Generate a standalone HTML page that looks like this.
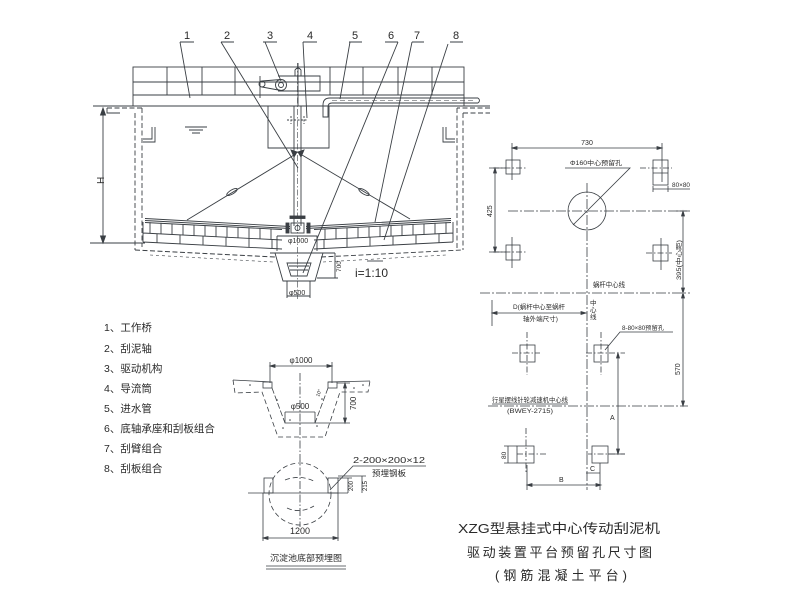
<!DOCTYPE html>
<html><head><meta charset="utf-8"><style>
html,body{margin:0;padding:0;background:#fff;}
svg{display:block;}
text{font-family:"Liberation Sans","Noto Sans CJK SC",sans-serif;fill:#2a2a2a;stroke:none;}
</style></head><body>
<svg width="787" height="590" viewBox="0 0 787 590" xmlns="http://www.w3.org/2000/svg">
<rect width="787" height="590" fill="#fff"/>
<g stroke="#3a3f44" stroke-width="0.9" fill="none">
<!-- ===== TOP DRAWING ===== -->
<!-- label underlines -->
<path d="M180,42H194M221,42H234M263,42H277M303,42H317M349,42H362M385,42H398M412,42H424M450,42H463"/>
<!-- leaders -->
<path d="M180,42L190,98M221,42L298,168M265,42L281,81M303,42L307,118M350,42L340,99M398,42L303,273M412,42L375,222M448,44L384,240"/>
<!-- bridge -->
<rect x="133" y="67" width="331" height="39"/>
<path d="M133,82H464M133,95H464"/>
<path d="M167,67V95M202,67V95M235,67V95M330,67V95M363,67V95M398,67V95M432,67V95"/>
<!-- drive -->
<path d="M278,76H320V91H278"/>
<path d="M298,63V106M295,70Q298,66 301,70V76H295Z"/>
<circle cx="281" cy="85" r="5.5"/><circle cx="281" cy="85" r="2.5"/>
<circle cx="262" cy="84" r="3"/>
<path d="M262,81L281,79.5M262,87L281,90.5M260,76V98"/>
<!-- tank top line -->
<path d="M93,106H490"/>
<!-- tank walls -->
<path d="M120,113H107V108" />
<path d="M107,108H142M135,113V250M142,108V247M457,108V250M463,113V250M463,113H490M490,108H457" stroke-dasharray="5 2.5"/>
<!-- weirs -->
<path d="M152,127V139H143M155,127V142H143M443,127V142H455M446,127V139H455"/>
<!-- water level -->
<path d="M185,127H207M189,130H203M192,133H200"/>
<!-- center cylinder -->
<path d="M268,106V148H329V106"/>
<!-- shaft -->
<path d="M294,106V226M301,106V226"/>
<path d="M297.5,63V300" stroke-dasharray="6 2 1.5 2" stroke-width="0.6"/>
<path d="M287,120H308M291,116V124M304,116V124" stroke-dasharray="2 1.5"/>
<!-- tie rods -->
<path d="M294,155L187,220M302,155L410,219"/>
<path d="M291,150L294,157L297,152ZM304,150L301,157L298,152Z" fill="#3a3f44"/>
<ellipse cx="232" cy="192" rx="6" ry="2" transform="rotate(-31 232 192)"/>
<ellipse cx="364" cy="192" rx="6" ry="2" transform="rotate(31 364 192)"/>
<!-- arms -->
<path d="M145,218.5L290,226.5M145,220.5L290,228.5M451,218.5L306,226.5M451,220.5L306,228.5"/>
<!-- blade bands left -->
<path d="M145,222.5L282,229.5M143,233L282,240M143,242L282,249M143,222V242"/>
<path d="M150,222.3V233.4M161,222.9V233.9M172,223.5V234.5M183,224.1V235M194,224.7V235.6M205,225.3V236.1M216,225.9V236.6M227,226.5V237.2M238,227.1V237.8M249,227.7V238.3M260,228.3V238.9M271,228.9V239.4"/>
<path d="M157,233.7V242.7M180,234.9V243.9M203,236V245M226,237.2V246.2M249,238.3V247.3M272,239.5V248.5"/>
<!-- blade bands right -->
<path d="M451,222.5L314,229.5M453,233L314,240M453,242L314,249M453,222V242"/>
<path d="M446,222.3V233.4M435,222.9V233.9M424,223.5V234.5M413,224.1V235M402,224.7V235.6M391,225.3V236.1M380,225.9V236.6M369,226.5V237.2M358,227.1V237.8M347,227.7V238.3M336,228.3V238.9M325,228.9V239.4"/>
<path d="M439,233.7V242.7M416,234.9V243.9M393,236V245M370,237.2V246.2M347,238.3V247.3M324,239.5V248.5"/>
<!-- hub -->
<rect x="291" y="223" width="13" height="10"/>
<circle cx="297.5" cy="228" r="2.5"/>
<rect x="286" y="223" width="3" height="10" fill="#3a3f44"/>
<rect x="307" y="223" width="3" height="10" fill="#3a3f44"/>
<rect x="290" y="216" width="15" height="2.5" fill="#3a3f44"/>
<path d="M277,236H317V251M277,236V251"/>
<!-- tank bottom -->
<path d="M135,250L275,257M321,257L463,250" stroke-dasharray="5 2.5"/>
<path d="M150,255L273,262M323,262L446,255" stroke-dasharray="3 3" stroke-width="0.6"/>
<path d="M90,243H145"/>
<!-- pit -->
<path d="M275,253L283,281H315L323,253M270,253H335M317,278H338"/>
<path d="M287,263H311L307,276H291Z"/>
<path d="M289,266H309M290,270H308"/>
<path d="M287,281V298M310,281V298M287,296H310M335,253V278"/>
<path d="M367,261H383"/>
<!-- H dim -->
<path d="M103,108V243"/>
<path d="M103,108L100.5,115H105.5ZM103,243L100.5,236H105.5Z" fill="#3a3f44"/>
<!-- pipe 5 -->
<path d="M478,98H330Q323,98 323,105V117H328V107Q328,103 332,103H478"/>
<path d="M478,98Q481,100.5 478,103"/>
<path d="M332,100.5H476" stroke-dasharray="5 3" stroke-width="0.6"/>

<!-- ===== RIGHT PLAN ===== -->
<g stroke-width="0.8">
<path d="M512,148H662M512,143V180M662,143V182"/>
<path d="M512,148l5,-1.5v3zM662,148l-5,-1.5v3z" fill="#3a3f44"/>
<path d="M493,168H527M640,168H672M493,252H527M646,253H672" stroke-dasharray="6 2 1.5 2"/>
<rect x="506" y="160" width="14" height="14"/>
<rect x="653" y="160" width="15" height="25"/>
<path d="M653,173H668M653,189H690M653,186V192M668,186V192"/>
<circle cx="587" cy="211" r="19"/>
<path d="M573,225L630,168H565"/>
<path d="M508,211H687M587,183V490" stroke-dasharray="10 2 2 2"/>
<path d="M495,168V252M489,168H506M489,252H506"/>
<path d="M495,168l-1.5,5h3zM495,252l-1.5,-5h3z" fill="#3a3f44"/>
<rect x="506" y="245" width="14" height="15"/>
<path d="M512,237V268"/>
<rect x="653" y="245" width="15" height="16"/>
<path d="M661,238V270"/>
<path d="M683,211V406M676,211H690"/>
<path d="M683,211l-1.5,5h3zM683,293l-1.5,-5h3zM683,293l-1.5,5h3zM683,406l-1.5,-5h3z" fill="#3a3f44"/>
<path d="M480,293H690M488,406H688" stroke-dasharray="10 2 2 2"/>
<path d="M492,313H586M492,300V326"/>
<path d="M492,313l5,-1.5v3zM586,313l-5,-1.5v3z" fill="#3a3f44"/>
<path d="M605,350L620,332H673"/>
<rect x="520" y="345" width="15" height="17"/>
<path d="M512,353H540M527,332V375" stroke-dasharray="6 2 1.5 2"/>
<rect x="594" y="345" width="14" height="17"/>
<path d="M586,353H625M601,332V375" stroke-dasharray="6 2 1.5 2"/>
<path d="M492,404H568"/>
<path d="M618,353V454M608,454H625"/>
<path d="M618,353l-1.5,5h3zM618,454l-1.5,-5h3z" fill="#3a3f44"/>
<rect x="517" y="446" width="17" height="17"/>
<path d="M517,454H547M526,428V473" stroke-dasharray="6 2 1.5 2"/>
<path d="M508,446V463M504,446H517M504,463H517"/>
<rect x="592" y="446" width="16" height="17"/>
<path d="M586,454H625" stroke-dasharray="6 2 1.5 2"/>
<path d="M586,473H600M600,463V490M527,465V490M527,485H601"/>
<path d="M527,485l5,-1.5v3zM601,485l-5,-1.5v3z" fill="#3a3f44"/>
</g>

<!-- ===== BOTTOM LEFT SECTION ===== -->
<g stroke-width="0.8">
<path d="M270,366H332M270,362V383M332,362V383"/>
<path d="M270,366l5,-1.5v3zM332,366l-5,-1.5v3z" fill="#3a3f44"/>
<path d="M233,380L272,382M328,382L370,381"/>
<path d="M233,380L235,393L262,392L278,437H325L340,392L368,392L370,381" stroke-dasharray="5 3"/>
<path d="M272,388L285,423M328,388L315,423" stroke-dasharray="6 2"/>
<path d="M285,412V423H315V412M285,412H315"/>
<rect x="263" y="382" width="9" height="6"/>
<rect x="328" y="382" width="9" height="6"/>
<path d="M345,383V423M337,383H350M315,423H350"/>
<path d="M345,383l-1.5,5h3zM345,423l-1.5,-5h3z" fill="#3a3f44"/>
<path d="M300,373V527" stroke-dasharray="8 2 1.5 2"/>
<path d="M248,493H348"/>
<circle cx="300" cy="494" r="31" stroke-dasharray="5 3"/>
<path d="M285,480Q300,474 316,482M287,508Q300,514 314,506" stroke-dasharray="5 3"/>
<rect x="264" y="478" width="9" height="15"/>
<rect x="328" y="478" width="10" height="15"/>
<path d="M330,490L353,466H426"/>
<path d="M348,478V493M362,476V493M338,478H352M338,476H366"/>
<path d="M263,538H338M263,493V541M338,493V541"/>
<path d="M263,538l5,-1.5v3zM338,538l-5,-1.5v3z" fill="#3a3f44"/>
<path d="M266,566H346M266,569H346"/>
</g>
<g fill="#3a3f44" stroke="none">
<circle cx="250" cy="385" r="0.8"/><circle cx="277" cy="400" r="0.8"/><circle cx="290" cy="420" r="0.8"/>
<circle cx="322" cy="399" r="0.8"/><circle cx="354" cy="388" r="0.8"/><circle cx="363" cy="385" r="0.8"/>
<circle cx="317" cy="426" r="0.8"/><circle cx="283" cy="428" r="0.8"/>
</g>
</g>

<!-- ===== TEXT ===== -->
<g font-size="11">
<text x="184" y="39">1</text><text x="224" y="39">2</text><text x="267" y="39">3</text><text x="307" y="39">4</text>
<text x="352" y="39">5</text><text x="388" y="39">6</text><text x="414" y="39">7</text><text x="453" y="39">8</text>
</g>
<text x="0" y="0" font-size="10" transform="translate(104,184) rotate(-90)">H</text>
<text x="288" y="243" font-size="7">φ1000</text>
<text x="0" y="0" font-size="6.5" transform="translate(341,272) rotate(-90)">700</text>
<text x="355" y="277" font-size="12">i=1:10</text>
<text x="289" y="295" font-size="7">φ500</text>

<!-- plan text -->
<text x="587" y="145" font-size="7" text-anchor="middle">730</text>
<text x="570" y="165" font-size="6.5" textLength="52" lengthAdjust="spacingAndGlyphs">Φ160中心预留孔</text>
<text x="672" y="187" font-size="6" textLength="18" lengthAdjust="spacingAndGlyphs">80×80</text>
<text x="0" y="0" font-size="7" transform="translate(492,217) rotate(-90)">425</text>
<text x="0" y="0" font-size="6.5" transform="translate(681,280) rotate(-90)" textLength="40" lengthAdjust="spacingAndGlyphs">395(中心距)</text>
<text x="593" y="287" font-size="7" textLength="32" lengthAdjust="spacingAndGlyphs">蜗杆中心线</text>
<text x="513" y="309" font-size="6.5" textLength="52" lengthAdjust="spacingAndGlyphs">D(蜗杆中心至蜗杆</text>
<text x="523" y="321" font-size="6.5" textLength="35" lengthAdjust="spacingAndGlyphs">轴外端尺寸)</text>
<text x="590" y="305" font-size="6.5">中</text><text x="590" y="312" font-size="6.5">心</text><text x="590" y="319" font-size="6.5">线</text>
<text x="622" y="330" font-size="6" textLength="42" lengthAdjust="spacingAndGlyphs">8-80×80预留孔</text>
<text x="0" y="0" font-size="7" transform="translate(680,375) rotate(-90)">570</text>
<text x="492" y="402" font-size="6.5" textLength="76" lengthAdjust="spacingAndGlyphs">行星摆线针轮减速机中心线</text>
<text x="507" y="413" font-size="6" textLength="46" lengthAdjust="spacingAndGlyphs">(BWEY-2715)</text>
<text x="610" y="420" font-size="7">A</text>
<text x="0" y="0" font-size="6.5" transform="translate(506,459) rotate(-90)">80</text>
<text x="590" y="471" font-size="7">C</text>
<text x="559" y="482" font-size="7">B</text>

<!-- legend -->
<g font-size="10.5">
<text x="104" y="331">1、工作桥</text>
<text x="104" y="352">2、刮泥轴</text>
<text x="104" y="372">3、驱动机构</text>
<text x="104" y="392">4、导流筒</text>
<text x="104" y="412">5、进水管</text>
<text x="104" y="432">6、底轴承座和刮板组合</text>
<text x="104" y="452">7、刮臂组合</text>
<text x="104" y="472">8、刮板组合</text>
</g>

<!-- bottom section text -->
<text x="301" y="363" font-size="8" text-anchor="middle">φ1000</text>
<text x="300" y="409" font-size="8" text-anchor="middle">φ500</text>
<text x="0" y="0" font-size="8" transform="translate(356,410) rotate(-90)">700</text>
<text x="0" y="0" font-size="5" transform="translate(319,397) rotate(-70)">10°</text>
<text x="353" y="463" font-size="8" textLength="72" lengthAdjust="spacingAndGlyphs">2-200×200×12</text>
<text x="372" y="476" font-size="8" textLength="34" lengthAdjust="spacingAndGlyphs">预埋钢板</text>
<text x="0" y="0" font-size="6" transform="translate(353,491) rotate(-90)">200</text>
<text x="0" y="0" font-size="6" transform="translate(367,491) rotate(-90)">215</text>
<text x="300" y="534" font-size="9" text-anchor="middle">1200</text>
<text x="270" y="561" font-size="8.5" textLength="72" lengthAdjust="spacingAndGlyphs">沉淀池底部预埋图</text>

<!-- title -->
<text x="458" y="533" font-size="13" textLength="202" lengthAdjust="spacingAndGlyphs">XZG型悬挂式中心传动刮泥机</text>
<text x="467" y="557" font-size="13" textLength="185" lengthAdjust="spacing">驱动装置平台预留孔尺寸图</text>
<text x="495" y="580" font-size="13" textLength="132" lengthAdjust="spacing">(钢筋混凝土平台)</text>
</svg>
</body></html>
